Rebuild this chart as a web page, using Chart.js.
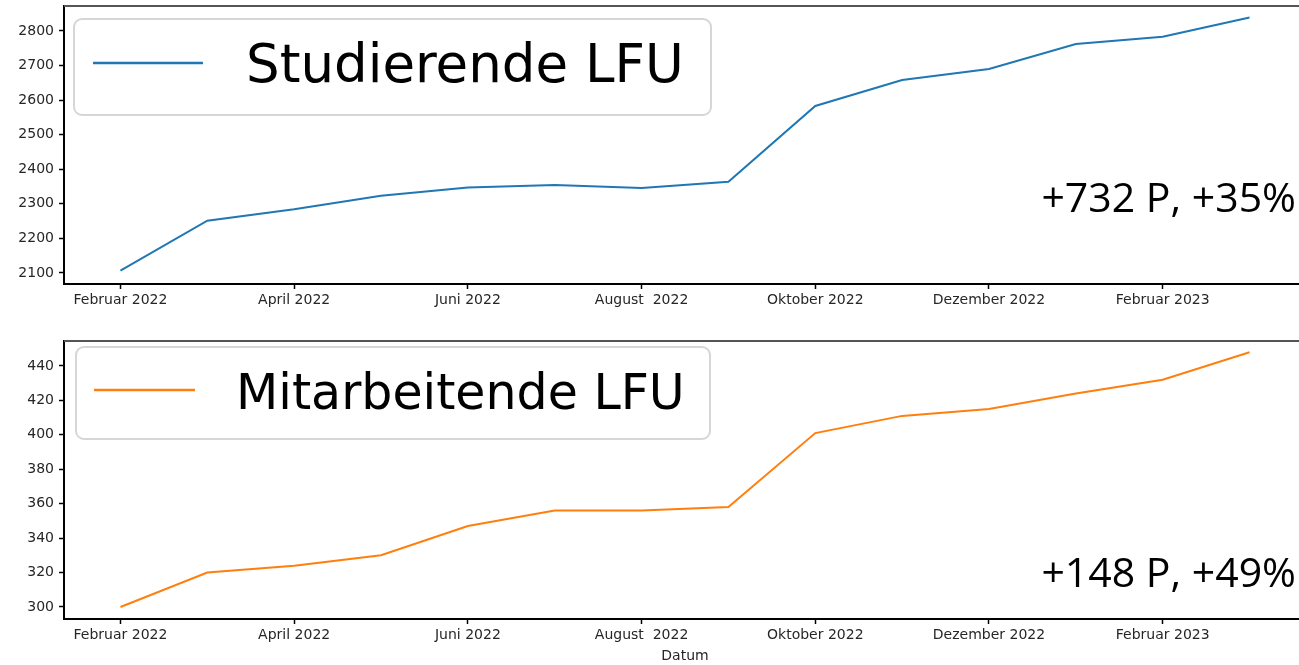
<!DOCTYPE html>
<html>
<head>
<meta charset="utf-8">
<script src="https://cdn.jsdelivr.net/npm/chart.js"></script>
<style>
  html, body { margin: 0; padding: 0; background: #fff; overflow: hidden; }
  canvas { position: absolute; left: 0; }
  #top { top: 0; }
  #bottom { top: 330px; }
</style>
</head>
<body>
<canvas id="top" width="1307" height="330"></canvas>
<canvas id="bottom" width="1307" height="335"></canvas>
<script>
// monthly values, Februar 2022 .. März 2023
const months = ["2022-02", "2022-03", "2022-04", "2022-05", "2022-06", "2022-07", "2022-08",
                "2022-09", "2022-10", "2022-11", "2022-12", "2023-01", "2023-02", "2023-03"];
const studierende = [2107, 2251, 2284, 2323, 2347, 2354, 2346, 2364, 2583, 2658, 2690, 2762, 2783, 2839];
const mitarbeitende = [300, 320, 324, 330, 347, 356, 356, 358, 401, 411, 415, 424, 432, 448];

const xTickIdx = [0, 2, 4, 6, 8, 10, 12];
const xTickLabels = ["Februar 2022", "April 2022", "Juni 2022", "August  2022",
                     "Oktober 2022", "Dezember 2022", "Februar 2023"];
const studTicks = [2100, 2200, 2300, 2400, 2500, 2600, 2700, 2800];
const mitTicks = [300, 320, 340, 360, 380, 400, 420, 440];

const tickFont = { family: "DejaVu Sans", size: 14 };
const tickColor = "#262626";

// legend box + right-hand note + top spine, matplotlib style
const decor = {
    id: "decor",
    afterDraw(chart, args, opts) {
        const { ctx, chartArea: a } = chart;
        ctx.save();
        ctx.strokeStyle = "#555";
        ctx.lineWidth = 2;
        ctx.beginPath();
        ctx.moveTo(a.left, a.top);
        ctx.lineTo(a.right, a.top);
        ctx.stroke();

        const b = opts.box;
        ctx.beginPath();
        ctx.roundRect(b.x, b.y, b.w, b.h, 8);
        ctx.fillStyle = "rgba(255,255,255,0.8)";
        ctx.fill();
        ctx.strokeStyle = "#d6d6d6";
        ctx.lineWidth = 2;
        ctx.stroke();

        const ds = chart.data.datasets[0];
        ctx.strokeStyle = ds.borderColor;
        ctx.lineWidth = 2.5;
        ctx.beginPath();
        ctx.moveTo(opts.line.x1, opts.line.y);
        ctx.lineTo(opts.line.x2, opts.line.y);
        ctx.stroke();

        ctx.fillStyle = "#000";
        ctx.font = opts.labelSize + "px 'DejaVu Sans'";
        ctx.textAlign = "left";
        ctx.textBaseline = "alphabetic";
        ctx.fillText(ds.label, opts.labelX, opts.labelY);

        ctx.font = "41px 'Open Sans'";
        ctx.textAlign = "right";
        ctx.fillText(opts.note, 1296, opts.noteY);
        ctx.restore();
    }
};

function makeChart(id, label, values, color, yMin, yMax, yTicks, showTitle, decorOpts) {
    return new Chart(document.getElementById(id), {
        type: "line",
        data: {
            datasets: [{
                label,
                data: values.map((v, i) => ({ x: i, y: v })),
                borderColor: color,
                borderWidth: 2,
                pointRadius: 0,
                tension: 0,
                fill: false
            }]
        },
        options: {
            responsive: false,
            animation: false,
            events: [],
            layout: { padding: { top: decorOpts.padTop, right: 1, left: 0, bottom: 0 } },
            plugins: {
                legend: { display: false },
                tooltip: { enabled: false },
                decor: decorOpts
            },
            scales: {
                x: {
                    type: "linear",
                    min: -0.65,
                    max: 13.65,
                    afterBuildTicks: s => { s.ticks = xTickIdx.map(v => ({ value: v })); },
                    afterFit: s => { s.height = 46; s.paddingLeft = 0; s.paddingRight = 0; },
                    ticks: {
                        font: tickFont,
                        color: tickColor,
                        padding: 3,
                        maxRotation: 0,
                        autoSkip: false,
                        callback: v => xTickLabels[xTickIdx.indexOf(v)]
                    },
                    grid: { drawOnChartArea: false, tickLength: 5, tickColor: "#000", tickWidth: 1.5 },
                    border: { display: true, color: "#000", width: 2 },
                    title: {
                        display: showTitle,
                        text: "Datum",
                        font: tickFont,
                        color: tickColor,
                        padding: 0
                    }
                },
                y: {
                    min: yMin,
                    max: yMax,
                    afterBuildTicks: s => { s.ticks = yTicks.map(v => ({ value: v })); },
                    afterFit: s => { s.width = 64; s.paddingTop = 0; s.paddingBottom = 0; },
                    ticks: { font: tickFont, color: tickColor, padding: 5, callback: v => String(v) },
                    grid: { drawOnChartArea: false, tickLength: 5, tickColor: "#000", tickWidth: 1.5 },
                    border: { display: true, color: "#000", width: 2 }
                }
            }
        },
        plugins: [decor]
    });
}

makeChart("top", "Studierende LFU", studierende, "#1f77b4", 2068, 2872, studTicks, false, {
    padTop: 6,
    box: { x: 74, y: 19, w: 637, h: 96 },
    line: { x1: 93, x2: 203, y: 63 },
    labelX: 246, labelY: 82, labelSize: 53,
    note: "+732 P, +35%", noteY: 212
});

makeChart("bottom", "Mitarbeitende LFU", mitarbeitende, "#ff7f0e", 293, 454.5, mitTicks, true, {
    padTop: 11,
    box: { x: 76, y: 17, w: 634, h: 92 },
    line: { x1: 94, x2: 195, y: 60 },
    labelX: 236, labelY: 79, labelSize: 49,
    note: "+148 P, +49%", noteY: 257
});
</script>
</body>
</html>
